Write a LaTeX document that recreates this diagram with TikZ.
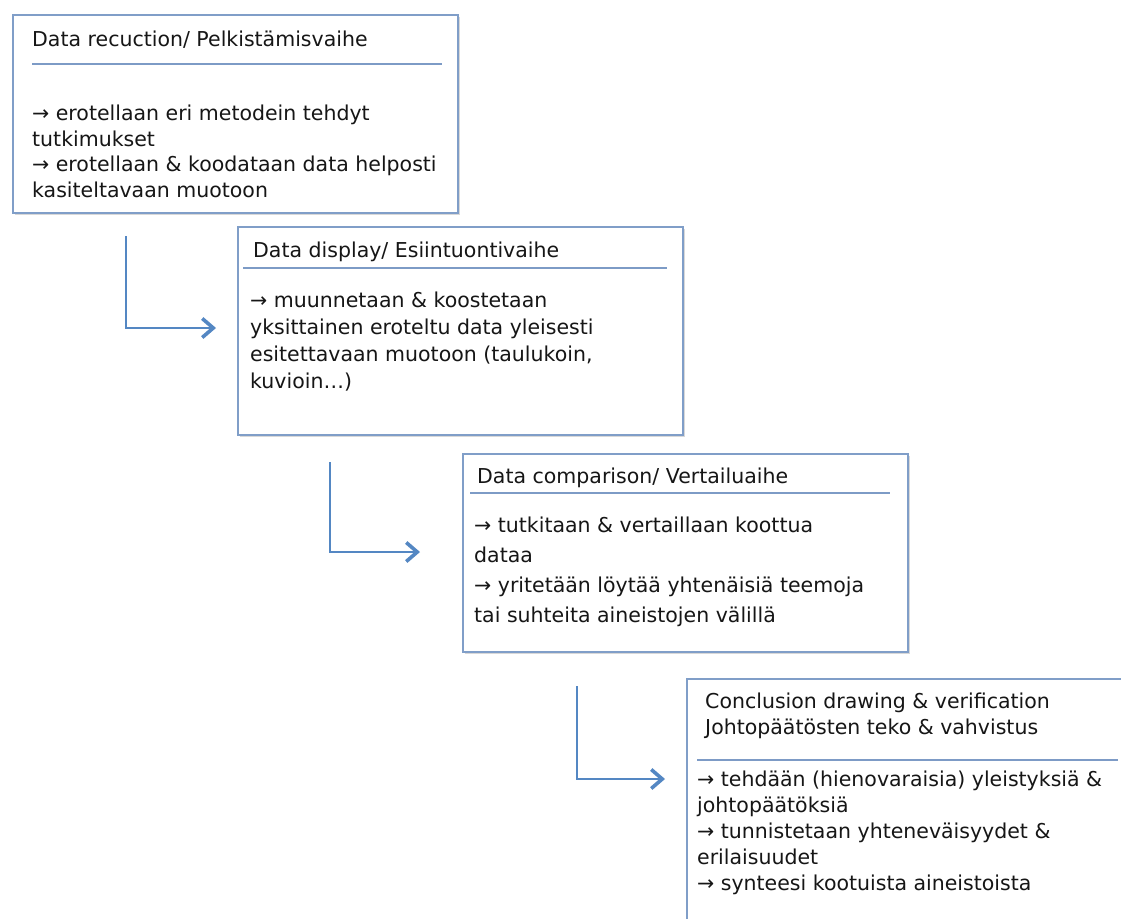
\documentclass[tikz,border=0pt]{standalone}
\usepackage{fontspec}
\setmainfont{DejaVu Sans}
\usetikzlibrary{arrows.meta,shadows}
\definecolor{boxc}{RGB}{128,158,200}
\definecolor{sepc}{RGB}{125,155,198}
\definecolor{arrc}{RGB}{84,135,195}
\definecolor{txtc}{RGB}{22,22,22}
\tikzset{
  stagebox/.style={draw=boxc, line width=1.8pt, fill=white, anchor=north west, inner sep=0pt,
    drop shadow={opacity=0.3, shadow xshift=2pt, shadow yshift=-2pt}},
  headtxt/.style={anchor=base west, inner sep=0pt, text=txtc, font=\fontsize{20.5}{25}\selectfont},
  bodytxt/.style={anchor=base west, inner sep=0pt, align=left, text=txtc, font=\fontsize{20.5}{25.5}\selectfont},
  sepline/.style={draw=sepc, line width=1.6pt},
  flowarrow/.style={draw=arrc, line width=2.2pt, -{Straight Barb[length=11pt,width=19pt,line width=3.6pt]}}
}
\begin{document}
\begin{tikzpicture}[x=1pt,y=-1pt]
\clip (0,0) rectangle (1121,918);
\fill[white] (0,0) rectangle (1121,918);

% Box 1
\node[stagebox, minimum width=445pt, minimum height=198pt] (b1) at (12,14) {};
\node[headtxt] (h1) at (32,46) {Data recuction/ Pelkistämisvaihe};
\coordinate (s1a) at (32,64); \coordinate (s1b) at (442,64);
\draw[sepline] (s1a) -- (s1b);
\node[bodytxt] (t1) at (32,197) {→ erotellaan eri metodein tehdyt\\tutkimukset\\→ erotellaan \& koodataan data helposti\\kasiteltavaan muotoon};

% Box 2
\node[stagebox, minimum width=445pt, minimum height=208pt] (b2) at (237,226) {};
\node[headtxt] (h2) at (253,257) {Data display/ Esiintuontivaihe};
\coordinate (s2a) at (243,268); \coordinate (s2b) at (667,268);
\draw[sepline] (s2a) -- (s2b);
\node[bodytxt, font=\fontsize{20.5}{27}\selectfont] (t2) at (250,388) {→ muunnetaan \& koostetaan\\yksittainen eroteltu data yleisesti\\esitettavaan muotoon (taulukoin,\\kuvioin…)};

% Box 3
\node[stagebox, minimum width=445pt, minimum height=198pt] (b3) at (462,453) {};
\node[headtxt] (h3) at (477,483) {Data comparison/ Vertailuaihe};
\coordinate (s3a) at (470,493); \coordinate (s3b) at (890,493);
\draw[sepline] (s3a) -- (s3b);
\node[bodytxt, font=\fontsize{20.5}{30}\selectfont] (t3) at (474,622) {→ tutkitaan \& vertaillaan koottua\\dataa\\→ yritetään löytää yhtenäisiä teemoja\\tai suhteita aineistojen välillä};

% Box 4
\node[stagebox, minimum width=460pt, minimum height=260pt] (b4) at (686,678) {};
\node[bodytxt, font=\fontsize{20.5}{26}\selectfont] (h4) at (705,734) {Conclusion drawing \& verification\\Johtopäätösten teko \& vahvistus};
\coordinate (s4a) at (697,760); \coordinate (s4b) at (1118,760);
\draw[sepline] (s4a) -- (s4b);
\node[bodytxt, font=\fontsize{20.5}{26}\selectfont] (t4) at (697,890) {→ tehdään (hienovaraisia) yleistyksiä \&\\johtopäätöksiä\\→ tunnistetaan yhteneväisyydet \&\\erilaisuudet\\→ synteesi kootuista aineistoista};

% Arrows
\coordinate (a1) at (126,236); \coordinate (a1e) at (216,328);
\coordinate (a2) at (330,462); \coordinate (a2e) at (420,552);
\coordinate (a3) at (577,686); \coordinate (a3e) at (665,779);
\draw[flowarrow] (a1) |- (a1e);
\draw[flowarrow] (a2) |- (a2e);
\draw[flowarrow] (a3) |- (a3e);
\end{tikzpicture}
\end{document}
